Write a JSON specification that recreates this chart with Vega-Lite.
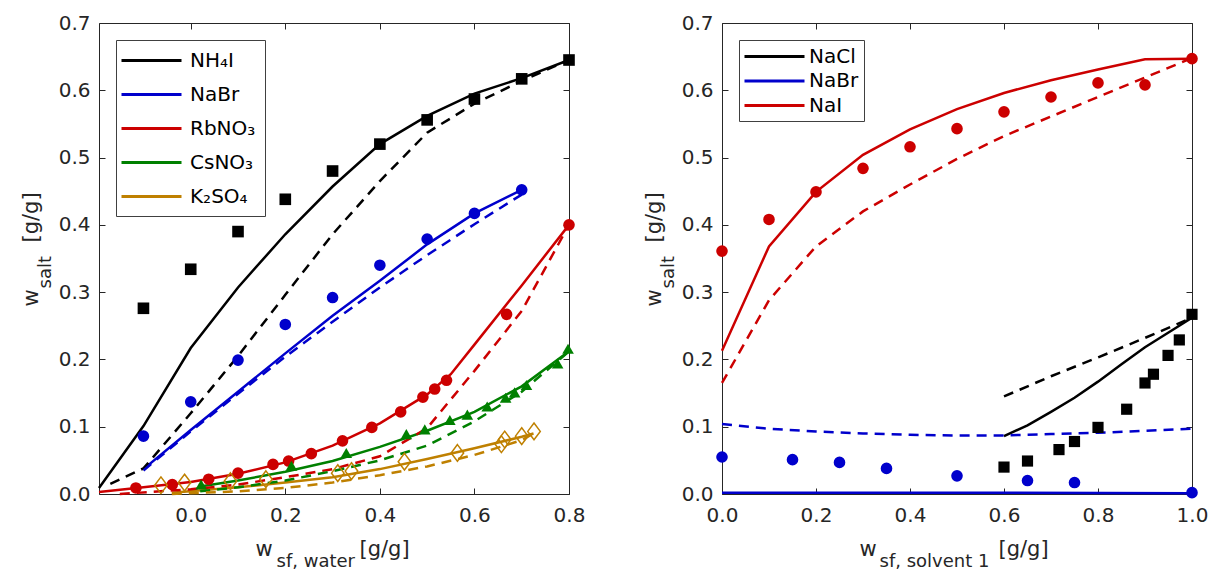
{
  "$schema": "https://vega.github.io/schema/vega-lite/v6.json",
  "background": "white",
  "padding": {"left": 19, "top": 12, "right": 0, "bottom": 0},
  "spacing": 56,
  "config": {
    "view": {"stroke": "#262626", "strokeWidth": 1},
    "axis": {"grid": false, "domain": false, "labelFont": "DejaVu Sans", "labelFontSize": 20, "labelColor": "#262626", "tickColor": "#262626", "tickWidth": 1, "titleFont": "DejaVu Sans", "titleFontWeight": "normal", "titleColor": "#262626"},
    "legend": {"labelFont": "DejaVu Sans", "labelFontSize": 20, "labelColor": "#000000"}
  },
  "resolve": {"scale": {"color": "independent", "fill": "independent", "stroke": "independent", "shape": "independent"}, "legend": {"color": "independent"}},
  "datasets": {
    "left_lines": [
      {"salt": "NH₄I", "model": "solid", "x": -0.194, "y": 0.009},
      {"salt": "NH₄I", "model": "solid", "x": -0.1, "y": 0.101},
      {"salt": "NH₄I", "model": "solid", "x": 0.0, "y": 0.217},
      {"salt": "NH₄I", "model": "solid", "x": 0.1, "y": 0.307},
      {"salt": "NH₄I", "model": "solid", "x": 0.2, "y": 0.386},
      {"salt": "NH₄I", "model": "solid", "x": 0.3, "y": 0.457},
      {"salt": "NH₄I", "model": "solid", "x": 0.4, "y": 0.52},
      {"salt": "NH₄I", "model": "solid", "x": 0.5, "y": 0.562},
      {"salt": "NH₄I", "model": "solid", "x": 0.6, "y": 0.595},
      {"salt": "NH₄I", "model": "solid", "x": 0.7, "y": 0.618},
      {"salt": "NH₄I", "model": "solid", "x": 0.8, "y": 0.645},
      {"salt": "NH₄I", "model": "dashed", "x": -0.17, "y": 0.015},
      {"salt": "NH₄I", "model": "dashed", "x": -0.1, "y": 0.038},
      {"salt": "NH₄I", "model": "dashed", "x": 0.0, "y": 0.12},
      {"salt": "NH₄I", "model": "dashed", "x": 0.1, "y": 0.205},
      {"salt": "NH₄I", "model": "dashed", "x": 0.2, "y": 0.296},
      {"salt": "NH₄I", "model": "dashed", "x": 0.3, "y": 0.386},
      {"salt": "NH₄I", "model": "dashed", "x": 0.4, "y": 0.465},
      {"salt": "NH₄I", "model": "dashed", "x": 0.5, "y": 0.537},
      {"salt": "NH₄I", "model": "dashed", "x": 0.6, "y": 0.58},
      {"salt": "NH₄I", "model": "dashed", "x": 0.7, "y": 0.614},
      {"salt": "NH₄I", "model": "dashed", "x": 0.8, "y": 0.645},
      {"salt": "NaBr", "model": "solid", "x": -0.1, "y": 0.037},
      {"salt": "NaBr", "model": "solid", "x": 0.0, "y": 0.095},
      {"salt": "NaBr", "model": "solid", "x": 0.1, "y": 0.152},
      {"salt": "NaBr", "model": "solid", "x": 0.2, "y": 0.209},
      {"salt": "NaBr", "model": "solid", "x": 0.3, "y": 0.265},
      {"salt": "NaBr", "model": "solid", "x": 0.4, "y": 0.317},
      {"salt": "NaBr", "model": "solid", "x": 0.5, "y": 0.371},
      {"salt": "NaBr", "model": "solid", "x": 0.6, "y": 0.417},
      {"salt": "NaBr", "model": "solid", "x": 0.7, "y": 0.452},
      {"salt": "NaBr", "model": "dashed", "x": -0.1, "y": 0.035},
      {"salt": "NaBr", "model": "dashed", "x": 0.0, "y": 0.093},
      {"salt": "NaBr", "model": "dashed", "x": 0.1, "y": 0.149},
      {"salt": "NaBr", "model": "dashed", "x": 0.2, "y": 0.204},
      {"salt": "NaBr", "model": "dashed", "x": 0.3, "y": 0.256},
      {"salt": "NaBr", "model": "dashed", "x": 0.4, "y": 0.307},
      {"salt": "NaBr", "model": "dashed", "x": 0.5, "y": 0.355},
      {"salt": "NaBr", "model": "dashed", "x": 0.6, "y": 0.401},
      {"salt": "NaBr", "model": "dashed", "x": 0.7, "y": 0.445},
      {"salt": "RbNO₃", "model": "solid", "x": -0.194, "y": 0.003},
      {"salt": "RbNO₃", "model": "solid", "x": -0.1, "y": 0.01},
      {"salt": "RbNO₃", "model": "solid", "x": 0.0, "y": 0.018},
      {"salt": "RbNO₃", "model": "solid", "x": 0.1, "y": 0.03},
      {"salt": "RbNO₃", "model": "solid", "x": 0.2, "y": 0.047},
      {"salt": "RbNO₃", "model": "solid", "x": 0.3, "y": 0.072},
      {"salt": "RbNO₃", "model": "solid", "x": 0.4, "y": 0.105},
      {"salt": "RbNO₃", "model": "solid", "x": 0.5, "y": 0.148},
      {"salt": "RbNO₃", "model": "solid", "x": 0.55, "y": 0.178},
      {"salt": "RbNO₃", "model": "solid", "x": 0.6, "y": 0.222},
      {"salt": "RbNO₃", "model": "solid", "x": 0.7, "y": 0.31},
      {"salt": "RbNO₃", "model": "solid", "x": 0.8, "y": 0.4},
      {"salt": "RbNO₃", "model": "dashed", "x": -0.15, "y": 0.0},
      {"salt": "RbNO₃", "model": "dashed", "x": 0.0, "y": 0.007},
      {"salt": "RbNO₃", "model": "dashed", "x": 0.1, "y": 0.014},
      {"salt": "RbNO₃", "model": "dashed", "x": 0.2, "y": 0.025},
      {"salt": "RbNO₃", "model": "dashed", "x": 0.3, "y": 0.037},
      {"salt": "RbNO₃", "model": "dashed", "x": 0.4, "y": 0.056},
      {"salt": "RbNO₃", "model": "dashed", "x": 0.5, "y": 0.098},
      {"salt": "RbNO₃", "model": "dashed", "x": 0.6, "y": 0.183},
      {"salt": "RbNO₃", "model": "dashed", "x": 0.7, "y": 0.272},
      {"salt": "RbNO₃", "model": "dashed", "x": 0.8, "y": 0.4},
      {"salt": "CsNO₃", "model": "solid", "x": 0.02, "y": 0.011},
      {"salt": "CsNO₃", "model": "solid", "x": 0.1, "y": 0.02},
      {"salt": "CsNO₃", "model": "solid", "x": 0.2, "y": 0.033},
      {"salt": "CsNO₃", "model": "solid", "x": 0.3, "y": 0.049},
      {"salt": "CsNO₃", "model": "solid", "x": 0.4, "y": 0.07},
      {"salt": "CsNO₃", "model": "solid", "x": 0.5, "y": 0.094},
      {"salt": "CsNO₃", "model": "solid", "x": 0.6, "y": 0.122},
      {"salt": "CsNO₃", "model": "solid", "x": 0.7, "y": 0.16},
      {"salt": "CsNO₃", "model": "solid", "x": 0.8, "y": 0.212},
      {"salt": "CsNO₃", "model": "dashed", "x": 0.02, "y": 0.004},
      {"salt": "CsNO₃", "model": "dashed", "x": 0.1, "y": 0.01},
      {"salt": "CsNO₃", "model": "dashed", "x": 0.2, "y": 0.02},
      {"salt": "CsNO₃", "model": "dashed", "x": 0.3, "y": 0.034},
      {"salt": "CsNO₃", "model": "dashed", "x": 0.4, "y": 0.05},
      {"salt": "CsNO₃", "model": "dashed", "x": 0.5, "y": 0.072},
      {"salt": "CsNO₃", "model": "dashed", "x": 0.6, "y": 0.108},
      {"salt": "CsNO₃", "model": "dashed", "x": 0.7, "y": 0.152},
      {"salt": "CsNO₃", "model": "dashed", "x": 0.8, "y": 0.212},
      {"salt": "K₂SO₄", "model": "solid", "x": -0.04, "y": 0.002},
      {"salt": "K₂SO₄", "model": "solid", "x": 0.1, "y": 0.01},
      {"salt": "K₂SO₄", "model": "solid", "x": 0.2, "y": 0.017},
      {"salt": "K₂SO₄", "model": "solid", "x": 0.3, "y": 0.025},
      {"salt": "K₂SO₄", "model": "solid", "x": 0.4, "y": 0.037},
      {"salt": "K₂SO₄", "model": "solid", "x": 0.5, "y": 0.052},
      {"salt": "K₂SO₄", "model": "solid", "x": 0.6, "y": 0.068},
      {"salt": "K₂SO₄", "model": "solid", "x": 0.7, "y": 0.085},
      {"salt": "K₂SO₄", "model": "solid", "x": 0.725, "y": 0.09},
      {"salt": "K₂SO₄", "model": "dashed", "x": -0.04, "y": 0.0},
      {"salt": "K₂SO₄", "model": "dashed", "x": 0.1, "y": 0.004},
      {"salt": "K₂SO₄", "model": "dashed", "x": 0.2, "y": 0.009},
      {"salt": "K₂SO₄", "model": "dashed", "x": 0.3, "y": 0.017},
      {"salt": "K₂SO₄", "model": "dashed", "x": 0.4, "y": 0.028},
      {"salt": "K₂SO₄", "model": "dashed", "x": 0.5, "y": 0.041},
      {"salt": "K₂SO₄", "model": "dashed", "x": 0.6, "y": 0.058},
      {"salt": "K₂SO₄", "model": "dashed", "x": 0.7, "y": 0.08},
      {"salt": "K₂SO₄", "model": "dashed", "x": 0.725, "y": 0.09}
    ],
    "left_points": [
      {"salt": "NH₄I", "x": -0.1, "y": 0.276},
      {"salt": "NH₄I", "x": 0.0, "y": 0.334},
      {"salt": "NH₄I", "x": 0.1, "y": 0.39},
      {"salt": "NH₄I", "x": 0.2, "y": 0.438},
      {"salt": "NH₄I", "x": 0.3, "y": 0.48},
      {"salt": "NH₄I", "x": 0.4, "y": 0.52},
      {"salt": "NH₄I", "x": 0.5, "y": 0.556},
      {"salt": "NH₄I", "x": 0.6, "y": 0.587},
      {"salt": "NH₄I", "x": 0.7, "y": 0.617},
      {"salt": "NH₄I", "x": 0.8, "y": 0.645},
      {"salt": "NaBr", "x": -0.1, "y": 0.086},
      {"salt": "NaBr", "x": 0.0, "y": 0.137},
      {"salt": "NaBr", "x": 0.1, "y": 0.199},
      {"salt": "NaBr", "x": 0.2, "y": 0.252},
      {"salt": "NaBr", "x": 0.3, "y": 0.292},
      {"salt": "NaBr", "x": 0.4, "y": 0.34},
      {"salt": "NaBr", "x": 0.5, "y": 0.379},
      {"salt": "NaBr", "x": 0.6, "y": 0.417},
      {"salt": "NaBr", "x": 0.7, "y": 0.452},
      {"salt": "RbNO₃", "x": -0.116, "y": 0.009},
      {"salt": "RbNO₃", "x": -0.039, "y": 0.014},
      {"salt": "RbNO₃", "x": 0.038, "y": 0.022},
      {"salt": "RbNO₃", "x": 0.1, "y": 0.031},
      {"salt": "RbNO₃", "x": 0.174, "y": 0.044},
      {"salt": "RbNO₃", "x": 0.207, "y": 0.049},
      {"salt": "RbNO₃", "x": 0.255, "y": 0.06},
      {"salt": "RbNO₃", "x": 0.321, "y": 0.079},
      {"salt": "RbNO₃", "x": 0.383, "y": 0.099},
      {"salt": "RbNO₃", "x": 0.444, "y": 0.122},
      {"salt": "RbNO₃", "x": 0.491, "y": 0.144},
      {"salt": "RbNO₃", "x": 0.516, "y": 0.156},
      {"salt": "RbNO₃", "x": 0.541, "y": 0.169},
      {"salt": "RbNO₃", "x": 0.668, "y": 0.267},
      {"salt": "RbNO₃", "x": 0.8, "y": 0.4},
      {"salt": "CsNO₃", "x": 0.022, "y": 0.014},
      {"salt": "CsNO₃", "x": 0.213, "y": 0.042},
      {"salt": "CsNO₃", "x": 0.329, "y": 0.061},
      {"salt": "CsNO₃", "x": 0.456, "y": 0.089},
      {"salt": "CsNO₃", "x": 0.495, "y": 0.096},
      {"salt": "CsNO₃", "x": 0.548, "y": 0.11},
      {"salt": "CsNO₃", "x": 0.585, "y": 0.118},
      {"salt": "CsNO₃", "x": 0.627, "y": 0.13},
      {"salt": "CsNO₃", "x": 0.666, "y": 0.143},
      {"salt": "CsNO₃", "x": 0.685, "y": 0.151},
      {"salt": "CsNO₃", "x": 0.71, "y": 0.162},
      {"salt": "CsNO₃", "x": 0.776, "y": 0.194},
      {"salt": "CsNO₃", "x": 0.798, "y": 0.216},
      {"salt": "K₂SO₄", "x": -0.063, "y": 0.013},
      {"salt": "K₂SO₄", "x": -0.013, "y": 0.017},
      {"salt": "K₂SO₄", "x": 0.084, "y": 0.019},
      {"salt": "K₂SO₄", "x": 0.159, "y": 0.022},
      {"salt": "K₂SO₄", "x": 0.311, "y": 0.031},
      {"salt": "K₂SO₄", "x": 0.34, "y": 0.034},
      {"salt": "K₂SO₄", "x": 0.452, "y": 0.048},
      {"salt": "K₂SO₄", "x": 0.564, "y": 0.061},
      {"salt": "K₂SO₄", "x": 0.657, "y": 0.074},
      {"salt": "K₂SO₄", "x": 0.664, "y": 0.081},
      {"salt": "K₂SO₄", "x": 0.7, "y": 0.086},
      {"salt": "K₂SO₄", "x": 0.726, "y": 0.093}
    ],
    "right_lines": [
      {"salt": "NaCl", "model": "solid", "x": 0.6, "y": 0.086},
      {"salt": "NaCl", "model": "solid", "x": 0.65, "y": 0.102},
      {"salt": "NaCl", "model": "solid", "x": 0.7, "y": 0.122},
      {"salt": "NaCl", "model": "solid", "x": 0.75, "y": 0.143},
      {"salt": "NaCl", "model": "solid", "x": 0.8, "y": 0.167},
      {"salt": "NaCl", "model": "solid", "x": 0.85, "y": 0.193},
      {"salt": "NaCl", "model": "solid", "x": 0.9, "y": 0.218},
      {"salt": "NaCl", "model": "solid", "x": 0.95, "y": 0.24},
      {"salt": "NaCl", "model": "solid", "x": 1.0, "y": 0.262},
      {"salt": "NaCl", "model": "dashed", "x": 0.6, "y": 0.145},
      {"salt": "NaCl", "model": "dashed", "x": 0.7, "y": 0.175},
      {"salt": "NaCl", "model": "dashed", "x": 0.8, "y": 0.203},
      {"salt": "NaCl", "model": "dashed", "x": 0.9, "y": 0.232},
      {"salt": "NaCl", "model": "dashed", "x": 1.0, "y": 0.262},
      {"salt": "NaBr", "model": "solid", "x": 0.0, "y": 0.002},
      {"salt": "NaBr", "model": "solid", "x": 0.5, "y": 0.002},
      {"salt": "NaBr", "model": "solid", "x": 1.0, "y": 0.001},
      {"salt": "NaBr", "model": "dashed", "x": 0.0, "y": 0.104},
      {"salt": "NaBr", "model": "dashed", "x": 0.1, "y": 0.097},
      {"salt": "NaBr", "model": "dashed", "x": 0.2, "y": 0.093},
      {"salt": "NaBr", "model": "dashed", "x": 0.3, "y": 0.09},
      {"salt": "NaBr", "model": "dashed", "x": 0.4, "y": 0.088},
      {"salt": "NaBr", "model": "dashed", "x": 0.5, "y": 0.087},
      {"salt": "NaBr", "model": "dashed", "x": 0.6, "y": 0.087},
      {"salt": "NaBr", "model": "dashed", "x": 0.7, "y": 0.089},
      {"salt": "NaBr", "model": "dashed", "x": 0.8, "y": 0.091},
      {"salt": "NaBr", "model": "dashed", "x": 0.9, "y": 0.094},
      {"salt": "NaBr", "model": "dashed", "x": 1.0, "y": 0.097},
      {"salt": "NaI", "model": "solid", "x": 0.0, "y": 0.213},
      {"salt": "NaI", "model": "solid", "x": 0.1, "y": 0.368},
      {"salt": "NaI", "model": "solid", "x": 0.2, "y": 0.449},
      {"salt": "NaI", "model": "solid", "x": 0.3, "y": 0.504},
      {"salt": "NaI", "model": "solid", "x": 0.4, "y": 0.542},
      {"salt": "NaI", "model": "solid", "x": 0.5, "y": 0.572},
      {"salt": "NaI", "model": "solid", "x": 0.6, "y": 0.596},
      {"salt": "NaI", "model": "solid", "x": 0.7, "y": 0.615},
      {"salt": "NaI", "model": "solid", "x": 0.8, "y": 0.631},
      {"salt": "NaI", "model": "solid", "x": 0.9, "y": 0.646},
      {"salt": "NaI", "model": "solid", "x": 1.0, "y": 0.647},
      {"salt": "NaI", "model": "dashed", "x": 0.0, "y": 0.165},
      {"salt": "NaI", "model": "dashed", "x": 0.1, "y": 0.288},
      {"salt": "NaI", "model": "dashed", "x": 0.2, "y": 0.368},
      {"salt": "NaI", "model": "dashed", "x": 0.3, "y": 0.42},
      {"salt": "NaI", "model": "dashed", "x": 0.4, "y": 0.46},
      {"salt": "NaI", "model": "dashed", "x": 0.5, "y": 0.498},
      {"salt": "NaI", "model": "dashed", "x": 0.6, "y": 0.532},
      {"salt": "NaI", "model": "dashed", "x": 0.7, "y": 0.561},
      {"salt": "NaI", "model": "dashed", "x": 0.8, "y": 0.59},
      {"salt": "NaI", "model": "dashed", "x": 0.9, "y": 0.619},
      {"salt": "NaI", "model": "dashed", "x": 1.0, "y": 0.648}
    ],
    "right_points": [
      {"salt": "NaI", "x": 0.0, "y": 0.361},
      {"salt": "NaI", "x": 0.1, "y": 0.408},
      {"salt": "NaI", "x": 0.2, "y": 0.449},
      {"salt": "NaI", "x": 0.3, "y": 0.484},
      {"salt": "NaI", "x": 0.4, "y": 0.516},
      {"salt": "NaI", "x": 0.5, "y": 0.543},
      {"salt": "NaI", "x": 0.6, "y": 0.568},
      {"salt": "NaI", "x": 0.7, "y": 0.59},
      {"salt": "NaI", "x": 0.8, "y": 0.611},
      {"salt": "NaI", "x": 0.9, "y": 0.608},
      {"salt": "NaI", "x": 1.0, "y": 0.647},
      {"salt": "NaBr", "x": 0.0, "y": 0.055},
      {"salt": "NaBr", "x": 0.15, "y": 0.051},
      {"salt": "NaBr", "x": 0.25, "y": 0.047},
      {"salt": "NaBr", "x": 0.35, "y": 0.038},
      {"salt": "NaBr", "x": 0.5, "y": 0.027},
      {"salt": "NaBr", "x": 0.65, "y": 0.02},
      {"salt": "NaBr", "x": 0.75, "y": 0.017},
      {"salt": "NaBr", "x": 1.0, "y": 0.002},
      {"salt": "NaCl", "x": 0.6, "y": 0.04},
      {"salt": "NaCl", "x": 0.65, "y": 0.049},
      {"salt": "NaCl", "x": 0.717, "y": 0.066},
      {"salt": "NaCl", "x": 0.75, "y": 0.078},
      {"salt": "NaCl", "x": 0.8, "y": 0.099},
      {"salt": "NaCl", "x": 0.861, "y": 0.126},
      {"salt": "NaCl", "x": 0.9, "y": 0.165},
      {"salt": "NaCl", "x": 0.918, "y": 0.178},
      {"salt": "NaCl", "x": 0.949, "y": 0.206},
      {"salt": "NaCl", "x": 0.973, "y": 0.229},
      {"salt": "NaCl", "x": 1.0, "y": 0.267}
    ]
  },
  "hconcat": [
    {
      "width": 470,
      "height": 471,
      "resolve": {"axis": {"x": "independent", "y": "independent"}},
      "layer": [
        {
          "data": {"name": "left_lines"},
          "transform": [{"filter": {"field": "model", "equal": "solid"}}],
          "mark": {"type": "line", "strokeWidth": 2.5, "clip": false},
          "encoding": {
            "x": {"field": "x", "type": "quantitative", "scale": {"domain": [-0.194, 0.8], "nice": false, "zero": false},
              "axis": {"orient": "bottom", "values": [0, 0.2, 0.4, 0.6, 0.8], "format": ".1f", "tickSize": -6, "labelPadding": 17, "labelFlush": false, "labelOverlap": false,
                "title": "w", "titleFontSize": 21, "titleX": 156, "titleY": 61, "titleAlign": "left", "titleBaseline": "alphabetic"}},
            "y": {"field": "y", "type": "quantitative", "scale": {"domain": [0, 0.7], "nice": false},
              "axis": {"orient": "left", "values": [0, 0.1, 0.2, 0.3, 0.4, 0.5, 0.6, 0.7], "format": ".1f", "tickSize": -6, "labelPadding": 15, "labelFlush": false, "labelOverlap": false,
                "title": "w", "titleFontSize": 21, "titleX": -62, "titleY": 283, "titleAlign": "left", "titleBaseline": "alphabetic", "titleAngle": 270}},
            "color": {"field": "salt", "type": "nominal",
              "scale": {"domain": ["NH₄I", "NaBr", "RbNO₃", "CsNO₃", "K₂SO₄"], "range": ["#000000", "#0000CC", "#CC0000", "#008000", "#BF8000"]},
              "legend": {"orient": "top-left", "offset": 17, "title": null, "symbolType": "M-3,0H3", "symbolSize": 400, "symbolStrokeWidth": 3, "symbolOffset": 15, "labelOffset": 27, "strokeColor": "#404040", "fillColor": "white", "padding": 9, "rowPadding": 12, "labelFontSize": 20}}
          }
        },
        {
          "data": {"name": "left_lines"},
          "transform": [{"filter": {"field": "model", "equal": "dashed"}}],
          "mark": {"type": "line", "strokeWidth": 2.5, "strokeDash": [10, 7], "clip": false},
          "encoding": {
            "x": {"field": "x", "type": "quantitative", "axis": {"orient": "bottom", "labels": false, "ticks": false, "title": "[g/g]", "titleFontSize": 21, "titleX": 260, "titleY": 61, "titleAlign": "left", "titleBaseline": "alphabetic"}},
            "y": {"field": "y", "type": "quantitative", "axis": {"orient": "left", "labels": false, "ticks": false, "title": "[g/g]", "titleFontSize": 21, "titleX": -62, "titleY": 219, "titleAlign": "left", "titleBaseline": "alphabetic", "titleAngle": 270}},
            "stroke": {"field": "salt", "type": "nominal", "scale": {"domain": ["NH₄I", "NaBr", "RbNO₃", "CsNO₃", "K₂SO₄"], "range": ["#000000", "#0000CC", "#CC0000", "#008000", "#BF8000"]}, "legend": null}
          }
        },
        {
          "data": {"name": "left_points"},
          "transform": [{"filter": {"not": {"field": "salt", "equal": "K₂SO₄"}}}],
          "mark": {"type": "point", "filled": true, "size": 135, "opacity": 1, "clip": false},
          "encoding": {
            "x": {"field": "x", "type": "quantitative", "axis": {"orient": "top", "values": [0, 0.2, 0.4, 0.6, 0.8], "labels": false, "tickSize": -6, "title": null}},
            "y": {"field": "y", "type": "quantitative", "axis": {"orient": "right", "values": [0, 0.1, 0.2, 0.3, 0.4, 0.5, 0.6, 0.7], "labels": false, "tickSize": -6, "title": null}},
            "shape": {"field": "salt", "type": "nominal", "scale": {"domain": ["NH₄I", "NaBr", "RbNO₃", "CsNO₃"], "range": ["square", "circle", "circle", "triangle-up"]}, "legend": null},
            "fill": {"field": "salt", "type": "nominal", "scale": {"domain": ["NH₄I", "NaBr", "RbNO₃", "CsNO₃"], "range": ["#000000", "#0000CC", "#CC0000", "#008000"]}, "legend": null}
          }
        },
        {
          "data": {"name": "left_points"},
          "transform": [{"filter": {"field": "salt", "equal": "K₂SO₄"}}],
          "mark": {"type": "point", "filled": false, "shape": "M0,-1L0.75,0L0,1L-0.75,0Z", "size": 280, "stroke": "#BF8000", "strokeWidth": 1.5, "opacity": 1, "clip": false},
          "encoding": {
            "x": {"field": "x", "type": "quantitative", "axis": {"orient": "bottom", "labels": false, "ticks": false, "title": "sf, water", "titleFontSize": 18, "titleX": 177, "titleY": 72, "titleAlign": "left", "titleBaseline": "alphabetic"}},
            "y": {"field": "y", "type": "quantitative", "axis": {"orient": "left", "labels": false, "ticks": false, "title": "salt", "titleFontSize": 18, "titleX": -49, "titleY": 265, "titleAlign": "left", "titleBaseline": "alphabetic", "titleAngle": 270}}
          }
        }
      ]
    },
    {
      "width": 470,
      "height": 471,
      "resolve": {"axis": {"x": "independent", "y": "independent"}},
      "layer": [
        {
          "data": {"name": "right_lines"},
          "transform": [{"filter": {"field": "model", "equal": "solid"}}],
          "mark": {"type": "line", "strokeWidth": 2.5, "clip": false},
          "encoding": {
            "x": {"field": "x", "type": "quantitative", "scale": {"domain": [0, 1], "nice": false, "zero": false},
              "axis": {"orient": "bottom", "values": [0, 0.2, 0.4, 0.6, 0.8, 1.0], "format": ".1f", "tickSize": -6, "labelPadding": 17, "labelFlush": false, "labelOverlap": false,
                "title": "w", "titleFontSize": 21, "titleX": 137, "titleY": 61, "titleAlign": "left", "titleBaseline": "alphabetic"}},
            "y": {"field": "y", "type": "quantitative", "scale": {"domain": [0, 0.7], "nice": false},
              "axis": {"orient": "left", "values": [0, 0.1, 0.2, 0.3, 0.4, 0.5, 0.6, 0.7], "format": ".1f", "tickSize": -6, "labelPadding": 15, "labelFlush": false, "labelOverlap": false,
                "title": "w", "titleFontSize": 21, "titleX": -62, "titleY": 283, "titleAlign": "left", "titleBaseline": "alphabetic", "titleAngle": 270}},
            "color": {"field": "salt", "type": "nominal",
              "scale": {"domain": ["NaCl", "NaBr", "NaI"], "range": ["#000000", "#0000CC", "#CC0000"]},
              "legend": {"orient": "top-left", "offset": 17, "title": null, "symbolType": "M-3,0H3", "symbolSize": 400, "symbolStrokeWidth": 3, "symbolOffset": 19, "labelOffset": 23, "strokeColor": "#404040", "fillColor": "white", "padding": 5, "rowPadding": 2.5, "labelFontSize": 20}}
          }
        },
        {
          "data": {"name": "right_lines"},
          "transform": [{"filter": {"field": "model", "equal": "dashed"}}],
          "mark": {"type": "line", "strokeWidth": 2.5, "strokeDash": [10, 7], "clip": false},
          "encoding": {
            "x": {"field": "x", "type": "quantitative", "axis": {"orient": "bottom", "labels": false, "ticks": false, "title": "[g/g]", "titleFontSize": 21, "titleX": 276, "titleY": 61, "titleAlign": "left", "titleBaseline": "alphabetic"}},
            "y": {"field": "y", "type": "quantitative", "axis": {"orient": "left", "labels": false, "ticks": false, "title": "[g/g]", "titleFontSize": 21, "titleX": -62, "titleY": 219, "titleAlign": "left", "titleBaseline": "alphabetic", "titleAngle": 270}},
            "stroke": {"field": "salt", "type": "nominal", "scale": {"domain": ["NaCl", "NaBr", "NaI"], "range": ["#000000", "#0000CC", "#CC0000"]}, "legend": null}
          }
        },
        {
          "data": {"name": "right_points"},
          "transform": [{"filter": {"not": {"field": "salt", "equal": "NaCl"}}}],
          "mark": {"type": "point", "filled": true, "shape": "circle", "size": 135, "opacity": 1, "clip": false},
          "encoding": {
            "x": {"field": "x", "type": "quantitative", "axis": {"orient": "top", "values": [0, 0.2, 0.4, 0.6, 0.8, 1.0], "labels": false, "tickSize": -6, "title": null}},
            "y": {"field": "y", "type": "quantitative", "axis": {"orient": "right", "values": [0, 0.1, 0.2, 0.3, 0.4, 0.5, 0.6, 0.7], "labels": false, "tickSize": -6, "title": null}},
            "fill": {"field": "salt", "type": "nominal", "scale": {"domain": ["NaBr", "NaI"], "range": ["#0000CC", "#CC0000"]}, "legend": null}
          }
        },
        {
          "data": {"name": "right_points"},
          "transform": [{"filter": {"field": "salt", "equal": "NaCl"}}],
          "mark": {"type": "point", "filled": true, "shape": "square", "size": 125, "color": "#000000", "opacity": 1, "clip": false},
          "encoding": {
            "x": {"field": "x", "type": "quantitative", "axis": {"orient": "bottom", "labels": false, "ticks": false, "title": "sf, solvent 1", "titleFontSize": 18, "titleX": 157, "titleY": 72, "titleAlign": "left", "titleBaseline": "alphabetic"}},
            "y": {"field": "y", "type": "quantitative", "axis": {"orient": "left", "labels": false, "ticks": false, "title": "salt", "titleFontSize": 18, "titleX": -49, "titleY": 265, "titleAlign": "left", "titleBaseline": "alphabetic", "titleAngle": 270}}
          }
        }
      ]
    }
  ]
}
